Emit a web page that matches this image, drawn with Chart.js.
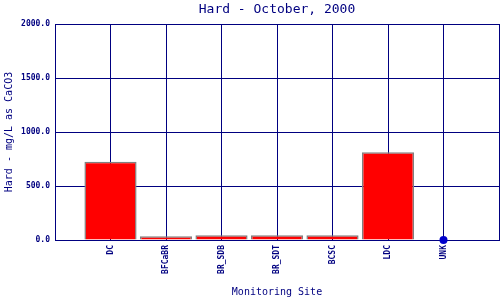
<!DOCTYPE html>
<html><head><meta charset="utf-8">
<script src="https://cdn.jsdelivr.net/npm/chart.js@4"></script>
<style>html,body{margin:0;padding:0;background:#fff}#w{width:500px;height:300px}</style>
</head><body><div id="w"><canvas id="c" width="500" height="300"></canvas></div>
<script>
const categories = ['', 'DC', 'BFCaBR', 'BR_SDB', 'BR_SDT', 'BCSC', 'LDC', 'UNK', ''];
const hardValues = [null, 725, 34, 43, 43, 43, 812, null, null];
const unkPoint = [null, null, null, null, null, null, null, 0, null];
const yTicks = [0, 500, 1000, 1500, 2000];
const navy = '#000080';
const mono = 'DejaVu Sans Mono';
const centerTitle = {
  id: 'centerTitle',
  afterLayout(chart) {
    const t = chart.titleBlock;
    if (t) { t.left = chart.chartArea.left; t.right = chart.chartArea.right; t.width = t.right - t.left; }
  }
};
new Chart(document.getElementById('c'), {
  type: 'bar',
  data: {
    labels: categories,
    datasets: [
      { data: hardValues, backgroundColor: '#ff0000', borderColor: '#808080', borderWidth: 1.5,
        barPercentage: 0.94, categoryPercentage: 1 },
      { type: 'line', data: unkPoint, showLine: false, pointRadius: 4, pointBackgroundColor: '#0000cc',
        pointBorderColor: '#0000cc', borderWidth: 0, clip: false }
    ]
  },
  plugins: [centerTitle],
  options: {
    responsive: false, animation: false,
    layout: { autoPadding: false, padding: { right: 1, left: 0, top: 0, bottom: 0 } },
    plugins: {
      legend: { display: false }, tooltip: { enabled: false },
      title: { display: true, text: 'Hard - October, 2000', color: navy,
        font: { family: mono, size: 13, weight: 'normal', lineHeight: 1 }, padding: { top: 3, bottom: 8 } }
    },
    scales: {
      x: {
        offset: false,
        grid: { color: navy, lineWidth: 1, drawTicks: false, offset: false },
        border: { color: navy },
        ticks: { autoSkip: false, minRotation: 90, maxRotation: 90, padding: 5, color: navy,
          font: { family: mono, size: 8, weight: 'bold' } },
        title: { display: true, text: 'Monitoring Site', color: navy, font: { family: mono, size: 10 }, padding: { top: 0, bottom: 2 } },
        afterFit: s => { s.height = 60; s.paddingLeft = 0; s.paddingRight = 0; }
      },
      y: {
        min: 0, max: 2000,
        afterBuildTicks: s => { s.ticks = yTicks.map(v => ({ value: v })); },
        grid: { color: navy, lineWidth: 1, drawTicks: false },
        border: { color: navy },
        ticks: { padding: 5, color: navy, font: { family: mono, size: 8, weight: 'bold' },
          callback: v => Number(v).toFixed(1) },
        title: { display: true, text: 'Hard - mg/L as CaCO3', color: navy, font: { family: mono, size: 10 }, padding: { top: 3, bottom: 0 } },
        afterFit: s => { s.width = 55; s.paddingTop = 0; s.paddingBottom = 0; }
      }
    }
  }
});
</script></body></html>
